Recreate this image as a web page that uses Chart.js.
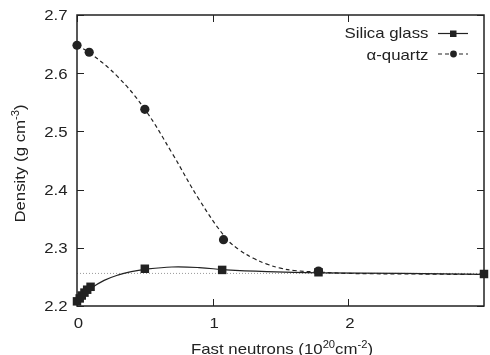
<!DOCTYPE html>
<html>
<head>
<meta charset="utf-8">
<script src="https://cdn.jsdelivr.net/npm/chart.js@4.4.1/dist/chart.umd.min.js"></script>
<style>
html, body { margin: 0; padding: 0; background: #fff; }
</style>
</head>
<body>
<canvas id="Graph" width="490" height="355"></canvas>
<script>
// measured points
const silicaX = [0, 0.02, 0.035, 0.055, 0.075, 0.1, 0.5, 1.07, 1.78, 3.0];
const silicaY = [2.208, 2.213, 2.218, 2.223, 2.228, 2.233, 2.264, 2.262, 2.258, 2.255];
const quartzX = [0, 0.09, 0.5, 1.08, 1.78];
const quartzY = [2.648, 2.636, 2.538, 2.314, 2.26];

// fitted curves
const silicaFitX = [0, 0.05, 0.1, 0.2, 0.3, 0.4, 0.5, 0.7, 0.9, 1.1, 1.4, 1.8, 2.4, 3.0];
const silicaFitY = [2.206, 2.220, 2.230, 2.244, 2.253, 2.259, 2.263, 2.267, 2.266, 2.262, 2.259, 2.257, 2.256, 2.2545];
const quartzFitX = [0, 0.1, 0.3, 0.5, 0.7, 0.9, 1.1, 1.2, 1.3, 1.4, 1.5, 1.6, 1.8, 2.0, 2.5, 3.0];
const quartzFitY = [2.648, 2.634, 2.594, 2.538, 2.463, 2.383, 2.316, 2.296, 2.282, 2.272, 2.265, 2.261, 2.258, 2.256, 2.255, 2.254];

// dotted reference level
const refX = [0, 3];
const refY = [2.256, 2.256];

const xTicks = [0, 1, 2];
const yTicks = [2.2, 2.3, 2.4, 2.5, 2.6, 2.7];
const legendLabels = ["Silica glass", "\u03b1-quartz"];

const FONT = "'Liberation Sans', Arial, Helvetica, sans-serif";
const INK = "#222";
const SX = 1.12;   // the figure's lettering is a bit wide

function pts(xs, ys) {
    return xs.map(function (v, i) { return {x: v, y: ys[i]}; });
}

// text with superscripts, parts = [[text, isSup], ...], align: "center" | "right"
function drawRich(ctx, parts, x, y, align) {
    ctx.save();
    ctx.translate(x, y);
    ctx.scale(SX, 1);
    ctx.textAlign = "left";
    ctx.textBaseline = "alphabetic";
    let w = 0;
    parts.forEach(function (p) {
        ctx.font = (p[1] ? "10px " : "15px ") + FONT;
        w += ctx.measureText(p[0]).width;
    });
    let cx = align === "right" ? -w : (align === "left" ? 0 : -w / 2);
    parts.forEach(function (p) {
        ctx.font = (p[1] ? "10px " : "15px ") + FONT;
        ctx.fillText(p[0], cx, p[1] ? -6 : 0);
        cx += ctx.measureText(p[0]).width;
    });
    ctx.restore();
}

const framePlugin = {
    id: "frame",
    afterDraw: function (chart) {
        const ctx = chart.ctx;
        const a = chart.chartArea;
        const xs = chart.scales.x, ys = chart.scales.y;
        ctx.save();
        ctx.strokeStyle = INK;
        ctx.lineWidth = 1.5;
        ctx.setLineDash([]);
        ctx.strokeRect(a.left, a.top, a.right - a.left, a.bottom - a.top);

        // inward ticks on all four sides
        ctx.lineWidth = 1;
        const tl = 7;
        ctx.beginPath();
        xTicks.forEach(function (v) {
            const px = Math.round(xs.getPixelForValue(v)) + 0.5;
            ctx.moveTo(px, a.bottom); ctx.lineTo(px, a.bottom - tl);
            ctx.moveTo(px, a.top); ctx.lineTo(px, a.top + tl);
        });
        yTicks.forEach(function (v) {
            const py = Math.round(ys.getPixelForValue(v)) + 0.5;
            ctx.moveTo(a.left, py); ctx.lineTo(a.left + tl, py);
            ctx.moveTo(a.right, py); ctx.lineTo(a.right - tl, py);
        });
        ctx.stroke();

        // tick labels
        ctx.fillStyle = INK;
        xTicks.forEach(function (v) {
            drawRich(ctx, [[String(v), false]], xs.getPixelForValue(v) + 1.5, 327.5, "center");
        });
        yTicks.forEach(function (v) {
            drawRich(ctx, [[v.toFixed(1), false]], 67.5, ys.getPixelForValue(v) + 5.3, "right");
        });

        // axis titles
        drawRich(ctx, [["Fast neutrons (10", false], ["20", true], ["cm", false], ["-2", true], [")", false]],
            282, 354, "center");
        ctx.save();
        ctx.translate(24.5, 163.5);
        ctx.rotate(-Math.PI / 2);
        drawRich(ctx, [["Density (g cm", false], ["-3", true], [")", false]], 0, 0, "center");
        ctx.restore();

        // legend, text on the left and sample on the right
        const rows = [[38, 33.5], [60, 54]];
        legendLabels.forEach(function (lab, i) {
            const by = rows[i][0];
            const my = rows[i][1];
            ctx.fillStyle = INK;
            drawRich(ctx, [[lab, false]], 428.5, by, "right");
            ctx.strokeStyle = INK;
            ctx.lineWidth = 1.2;
            ctx.setLineDash(i === 0 ? [] : [4, 3]);
            ctx.beginPath();
            ctx.moveTo(438, my); ctx.lineTo(468, my);
            ctx.stroke();
            ctx.setLineDash([]);
            ctx.beginPath();
            if (i === 0) {
                ctx.rect(450, my - 3, 6.5, 6.5);
            } else {
                ctx.arc(453.5, my, 3.4, 0, Math.PI * 2);
            }
            ctx.fill();
        });
        ctx.restore();
    }
};

Chart.defaults.font.family = FONT;
Chart.defaults.font.size = 15;
Chart.defaults.color = INK;

var chart = new Chart("Graph", {
    type: "scatter",
    data: {
        datasets: [
            {
                label: legendLabels[0],
                data: pts(silicaX, silicaY),
                pointStyle: "rect",
                pointRadius: 6,
                backgroundColor: INK,
                borderColor: INK,
                borderWidth: 0,
                clip: false
            },
            {
                label: legendLabels[1],
                data: pts(quartzX, quartzY),
                pointStyle: "circle",
                pointRadius: 4.6,
                backgroundColor: INK,
                borderColor: INK,
                borderWidth: 0,
                clip: false
            },
            {
                label: "silica fit",
                data: pts(silicaFitX, silicaFitY),
                showLine: true,
                pointRadius: 0,
                borderColor: INK,
                borderWidth: 1.2,
                tension: 0.4
            },
            {
                label: "quartz fit",
                data: pts(quartzFitX, quartzFitY),
                showLine: true,
                pointRadius: 0,
                borderColor: INK,
                borderWidth: 1.2,
                borderDash: [4, 3],
                tension: 0.4
            },
            {
                label: "reference",
                data: pts(refX, refY),
                showLine: true,
                pointRadius: 0,
                borderColor: "#999",
                borderWidth: 1,
                borderDash: [1, 2]
            }
        ]
    },
    options: {
        responsive: false,
        animation: false,
        events: [],
        layout: { padding: { top: 15, right: 2, left: 0, bottom: 0 } },
        plugins: { legend: { display: false }, tooltip: { enabled: false } },
        scales: {
            x: {
                type: "linear",
                min: 0,
                max: 3,
                grid: { display: false, drawTicks: false },
                border: { display: false },
                afterBuildTicks: function (s) { s.ticks = xTicks.map(function (v) { return {value: v}; }); },
                afterFit: function (s) { s.height = 49; },
                ticks: { display: false }
            },
            y: {
                type: "linear",
                min: 2.2,
                max: 2.7,
                grid: { display: false, drawTicks: false },
                border: { display: false },
                afterBuildTicks: function (s) { s.ticks = yTicks.map(function (v) { return {value: v}; }); },
                afterFit: function (s) { s.width = 77; },
                ticks: { display: false }
            }
        }
    },
    plugins: [framePlugin]
});
</script>
</body>
</html>
